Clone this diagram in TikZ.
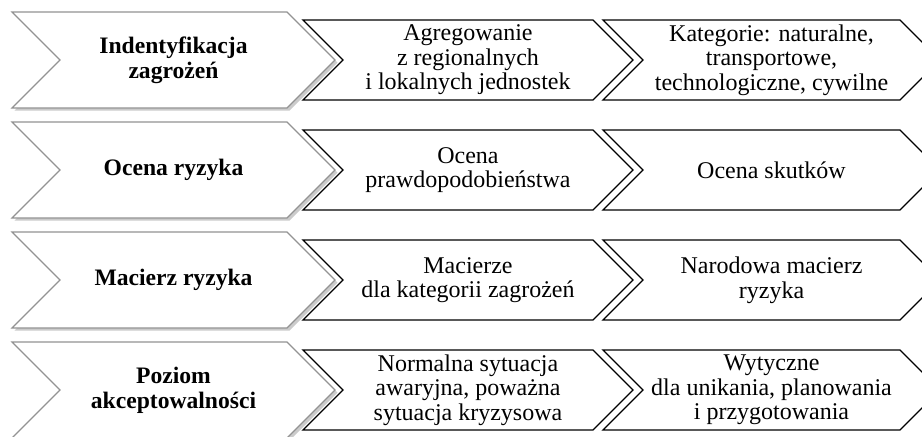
\documentclass[tikz,border=0pt]{standalone}
\usepackage{fontspec}
\setmainfont{Liberation Serif}
\usetikzlibrary{shapes.symbols,shadows,positioning}

\begin{document}
\begin{tikzpicture}[
    x=0.5pt, y=-0.5pt,
    phase/.style={signal, signal from=west, signal to=east, signal pointer angle=90,
        draw=gray!85, line width=0.55pt, fill=white,
        minimum width=161.5pt, minimum height=48pt, inner sep=0pt, outer sep=0pt, align=center,
        font=\fontsize{11.8}{12.5}\selectfont\bfseries,
        drop shadow={shadow xshift=1.3pt, shadow yshift=-1.3pt, opacity=0.5, fill=gray!80}},
    task/.style={signal, signal from=west, signal to=east, signal pointer angle=90,
        draw=black, line width=0.65pt, fill=white,
        minimum height=40pt, inner sep=0pt, outer sep=0pt, align=center,
        font=\fontsize{12}{12.3}\selectfont}
]
\clip (0,0) rectangle (922,436);
\fill[white] (0,0) rectangle (922,436);

% Row 1
\node[phase] (ident) at (173.5, 60) {Indentyfikacja\\zagrożeń};
\node[task, minimum width=165pt] (agreg) at (468, 60) {Agregowanie\\z regionalnych\\i lokalnych jednostek};
\node[task, minimum width=168.5pt] (kateg) at (771.5, 60) {Kategorie: naturalne,\\transportowe,\\technologiczne, cywilne};

% Row 2
\node[phase] (ocena) at (173.5, 170) {Ocena ryzyka};
\node[task, minimum width=165pt] (prawd) at (468, 170) {Ocena\\prawdopodobieństwa};
\node[task, minimum width=168.5pt] (skutk) at (771.5, 170) {Ocena skutków};

% Row 3
\node[phase] (macierz) at (173.5, 280) {Macierz ryzyka};
\node[task, minimum width=165pt] (kateg mac) at (468, 280) {Macierze\\dla kategorii zagrożeń};
\node[task, minimum width=168.5pt] (narod) at (771.5, 280) {Narodowa macierz\\ryzyka};

% Row 4
\node[phase] (poziom) at (173.5, 390) {Poziom\\akceptowalności};
\node[task, minimum width=165pt] (sytuacja) at (468, 390) {Normalna sytuacja\\awaryjna, poważna\\sytuacja kryzysowa};
\node[task, minimum width=168.5pt] (wytyczne) at (771.5, 390) {Wytyczne\\dla unikania, planowania\\i przygotowania};

\end{tikzpicture}
\end{document}
